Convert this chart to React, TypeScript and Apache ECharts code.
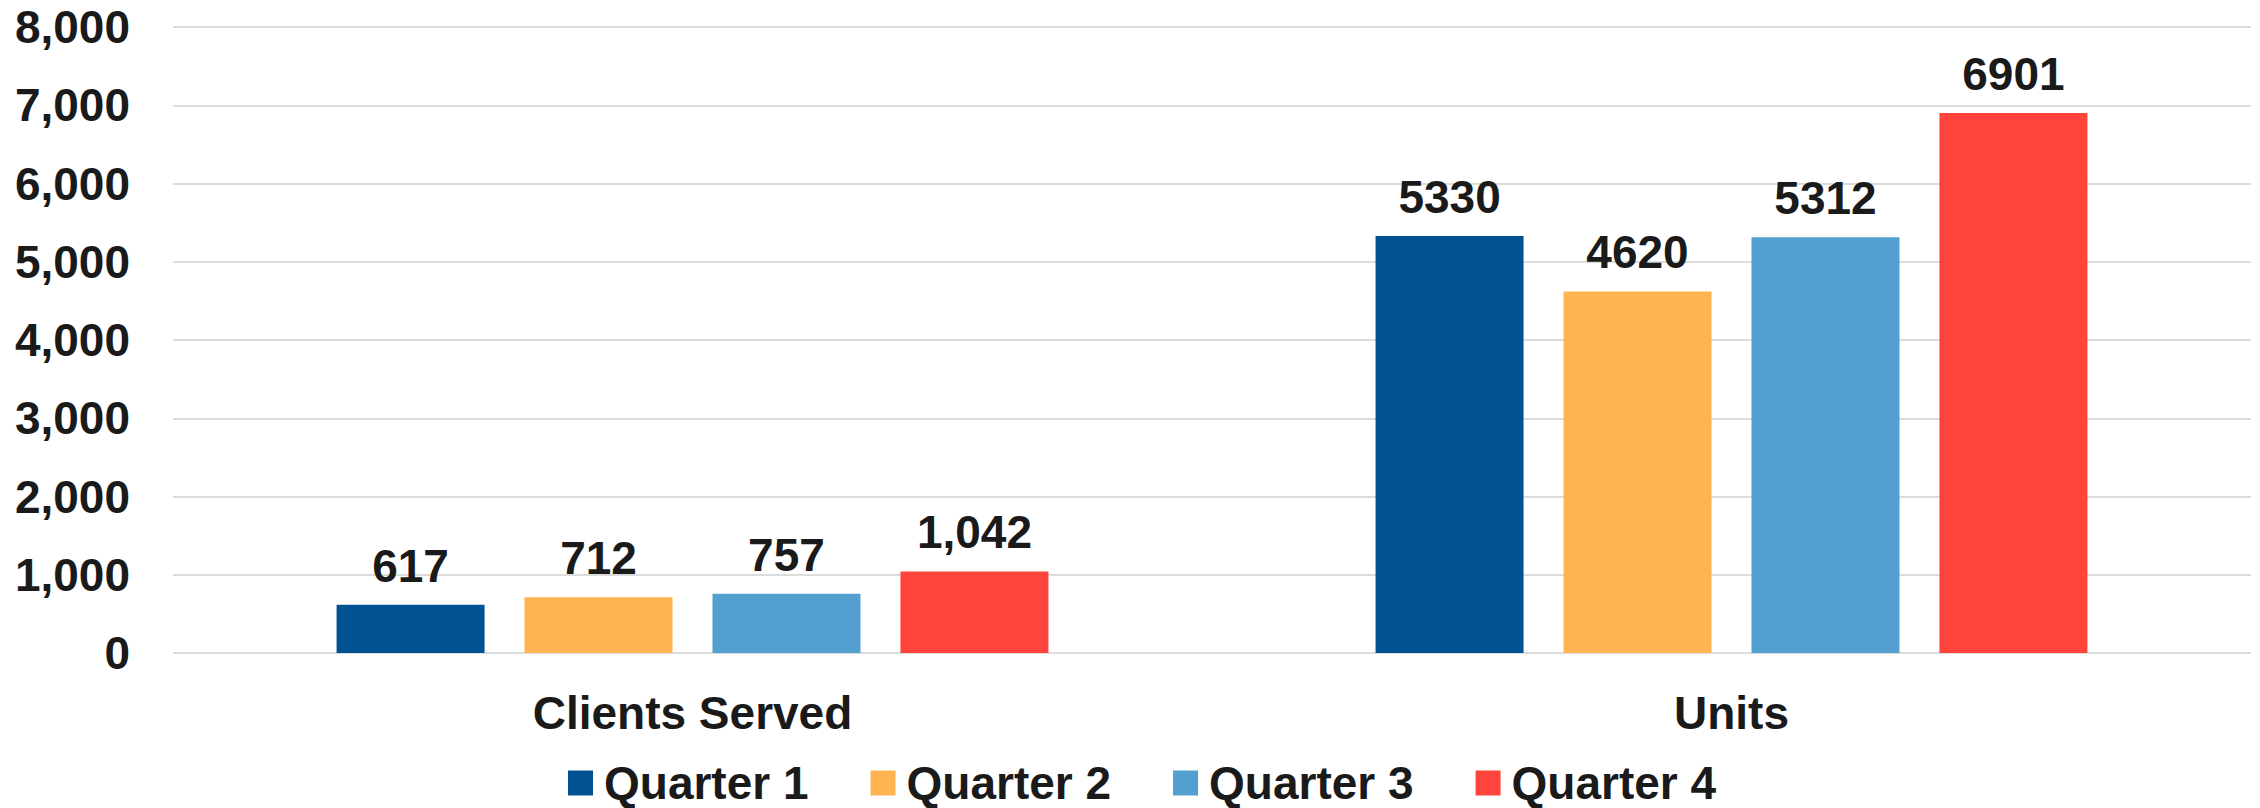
import React, { useEffect, useRef } from "react";
import * as echarts from "echarts";

const categories = ["Clients Served", "Units"];
const seriesNames = ["Quarter 1", "Quarter 2", "Quarter 3", "Quarter 4"];
const quarter1 = [617, 5330];
const quarter2 = [712, 4620];
const quarter3 = [757, 5312];
const quarter4 = [1042, 6901];
const seriesValues = [quarter1, quarter2, quarter3, quarter4];
const colors = ["#005293", "#FFB351", "#529FD0", "#FF453B"];
const commaCategories = ["Clients Served"];

const FONT = "'Liberation Sans', Arial, Helvetica, sans-serif";
const TEXT = "#1a1a1a";

export default function App() {
  const ref = useRef<HTMLDivElement>(null);
  useEffect(() => {
    if (!ref.current) return;
    const chart = echarts.init(ref.current, undefined, { renderer: "svg" });
    chart.setOption({
      animation: false,
      backgroundColor: "#ffffff",
      grid: { left: 173, right: 9, top: 27, bottom: 155, containLabel: false },
      legend: {
        data: seriesNames,
        left: 568,
        top: 760,
        padding: 0,
        itemWidth: 25,
        itemHeight: 25,
        itemGap: 62,
        icon: "rect",
        textStyle: {
          fontFamily: FONT,
          fontWeight: "bold",
          fontSize: 46,
          lineHeight: 46,
          color: TEXT,
          padding: [0, 0, 0, 6],
        },
      },
      xAxis: {
        type: "category",
        data: categories,
        axisLine: { show: false },
        axisTick: { show: false },
        axisLabel: { fontFamily: FONT, fontWeight: "bold", fontSize: 46, color: TEXT, margin: 37 },
      },
      yAxis: {
        type: "value",
        min: 0,
        max: 8000,
        interval: 1000,
        axisLine: { show: false },
        axisTick: { show: false },
        splitLine: { lineStyle: { color: "#dcdcdc", width: 2 } },
        axisLabel: {
          fontFamily: FONT,
          fontWeight: "bold",
          fontSize: 46,
          color: TEXT,
          margin: 43,
          formatter: (v: number) => v.toLocaleString("en-US"),
        },
      },
      series: seriesValues.map((vals, i) => ({
        name: seriesNames[i],
        type: "bar",
        data: vals,
        barWidth: 148,
        barGap: "27%",
        itemStyle: { color: colors[i] },
        label: {
          show: true,
          position: "top",
          distance: 16,
          fontFamily: FONT,
          fontWeight: "bold",
          fontSize: 46,
          color: TEXT,
          formatter: (p: any) =>
            commaCategories.includes(p.name) ? Number(p.value).toLocaleString("en-US") : String(p.value),
        },
      })),
    });
    return () => chart.dispose();
  }, []);
  return (
    <div
      ref={ref}
      style={{ position: "fixed", left: 0, top: 0, width: 2260, height: 808, background: "#fff" }}
    />
  );
}
